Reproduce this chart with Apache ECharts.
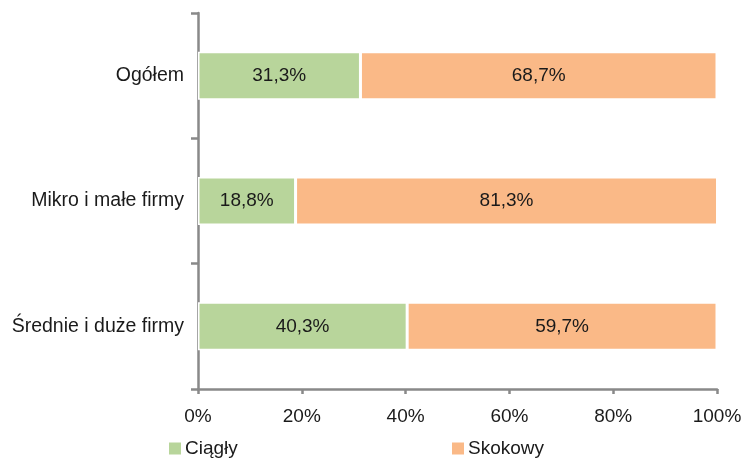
<!DOCTYPE html>
<html>
<head>
<meta charset="utf-8">
<script src="https://cdn.jsdelivr.net/npm/echarts@6/dist/echarts.min.js"></script>
<style>
  html, body { margin: 0; padding: 0; background: #fff; }
  #chart { width: 745px; height: 458px; }
</style>
</head>
<body>
<div id="chart"></div>
<script>
// Firm-size groups, top to bottom
const categories = ['Ogółem', 'Mikro i małe firmy', 'Średnie i duże firmy'];
// Share of each type (%)
const ciaglyValues = [31.3, 18.8, 40.3];
const skokowyValues = [68.7, 81.3, 59.7];
const seriesNames = ['Ciągły', 'Skokowy'];
const xTicks = [0, 20, 40, 60, 80, 100];

const fontFamily = '"Liberation Sans", Arial, sans-serif';
const axisGray = '#898989';
const textColor = '#1a1a1a';

const pct = v => String(v).replace('.', ',') + '%';

const chart = echarts.init(document.getElementById('chart'), null, { renderer: 'canvas' });

const labelStyle = {
  show: true,
  position: 'inside',
  color: textColor,
  fontSize: 19,
  fontFamily: fontFamily,
  formatter: p => pct(p.value)
};

const legendText = { color: textColor, fontSize: 19, fontFamily: fontFamily, padding: [0, 0, 0, -2] };

chart.setOption({
  animation: false,
  backgroundColor: '#fff',
  grid: { left: 198, right: 28, top: 13, bottom: 69, containLabel: false },
  xAxis: {
    type: 'value',
    min: xTicks[0],
    max: xTicks[xTicks.length - 1],
    interval: 20,
    axisLine: { show: true, lineStyle: { color: axisGray, width: 2.5 } },
    axisTick: { show: true, length: 5, lineStyle: { color: axisGray, width: 2.5 } },
    splitLine: { show: false },
    axisLabel: {
      color: textColor,
      fontSize: 19,
      fontFamily: fontFamily,
      margin: 18,
      formatter: v => v + '%'
    }
  },
  yAxis: {
    type: 'category',
    data: categories,
    inverse: true,
    axisLine: { show: true, lineStyle: { color: axisGray, width: 2.5 } },
    axisTick: { show: true, length: 7, lineStyle: { color: axisGray, width: 2.5 } },
    axisLabel: {
      color: textColor,
      fontSize: 19.5,
      fontFamily: fontFamily,
      margin: 14
    }
  },
  legend: [
    {
      data: [seriesNames[0]],
      left: 162, top: 434,
      itemWidth: 14, itemHeight: 14, itemGap: 5,
      icon: 'rect',
      textStyle: legendText
    },
    {
      data: [seriesNames[1]],
      left: 445, top: 434,
      itemWidth: 14, itemHeight: 14, itemGap: 5,
      icon: 'rect',
      textStyle: legendText
    }
  ],
  series: [
    {
      name: seriesNames[0],
      type: 'bar',
      stack: 'total',
      barWidth: 48,
      data: ciaglyValues,
      itemStyle: { color: '#B8D59B', borderColor: '#fff', borderWidth: 1.5 },
      label: labelStyle
    },
    {
      name: seriesNames[1],
      type: 'bar',
      stack: 'total',
      barWidth: 48,
      data: skokowyValues,
      itemStyle: { color: '#FAB987', borderColor: '#fff', borderWidth: 1.5 },
      label: labelStyle
    }
  ]
});
</script>
</body>
</html>
